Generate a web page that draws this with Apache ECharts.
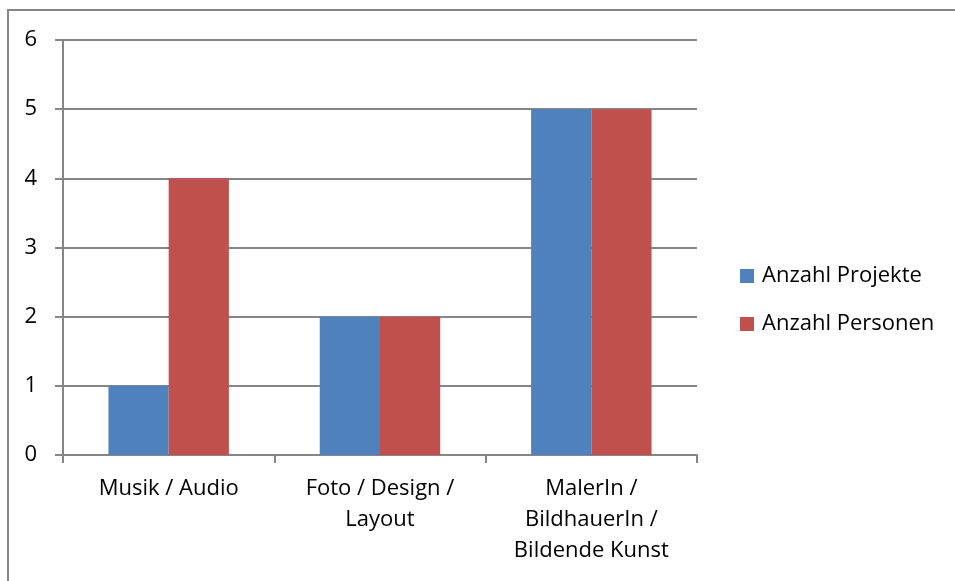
<!DOCTYPE html>
<html>
<head>
<meta charset="utf-8">
<script src="https://cdn.jsdelivr.net/npm/echarts@6/dist/echarts.min.js"></script>
<style>
html, body { margin: 0; padding: 0; background: #fff; }
#chart { width: 955px; height: 581px; }
</style>
</head>
<body>
<div id="chart"></div>
<script>
// Kategorien und Werte
const categories = ['Musik / Audio', 'Foto / Design /\nLayout', 'MalerIn /\nBildhauerIn /\nBildende Kunst'];
const projekte = [1, 2, 5];
const personen = [4, 2, 5];
const seriesNames = ['Anzahl Projekte', 'Anzahl Personen'];
const yTicks = { min: 0, max: 6, interval: 1 };

const FONT = 'Open Sans';
const GRAY = '#868686';

const chart = echarts.init(document.getElementById('chart'));
chart.setOption({
  animation: false,
  textStyle: { fontFamily: FONT },
  graphic: [{
    type: 'rect',
    shape: { x: 8, y: 10, width: 1200, height: 1000 },
    style: { fill: 'none', stroke: GRAY, lineWidth: 2 },
    silent: true
  }],
  legend: {
    orient: 'vertical',
    left: 740,
    top: 260,
    padding: [5, 0, 5, 0],
    itemWidth: 14,
    itemHeight: 14,
    itemGap: 26,
    icon: 'rect',
    textStyle: { fontSize: 22, color: '#000', fontFamily: FONT, padding: [0, 0, 0, 3] },
    data: seriesNames
  },
  grid: { left: 63, right: 258, top: 40, bottom: 126, containLabel: false },
  xAxis: {
    type: 'category',
    data: categories,
    axisLine: { lineStyle: { color: GRAY, width: 2 } },
    axisTick: { show: true, length: 8, lineStyle: { color: GRAY, width: 2 } },
    axisLabel: { color: '#000', fontSize: 22, margin: 18, lineHeight: 31, interval: 0, fontFamily: FONT }
  },
  yAxis: {
    type: 'value',
    min: yTicks.min,
    max: yTicks.max,
    interval: yTicks.interval,
    axisLine: { show: true, lineStyle: { color: GRAY, width: 2 } },
    axisTick: { show: true, length: 8, lineStyle: { color: GRAY, width: 2 } },
    axisLabel: { color: '#000', fontSize: 22, margin: 26, fontFamily: FONT },
    splitLine: { show: true, lineStyle: { color: GRAY, width: 2 } }
  },
  series: [
    {
      name: seriesNames[0],
      type: 'bar',
      data: projekte,
      barGap: '0%',
      barCategoryGap: '43%',
      itemStyle: { color: '#4F81BD' }
    },
    {
      name: seriesNames[1],
      type: 'bar',
      data: personen,
      itemStyle: { color: '#C0504D' }
    }
  ]
});
</script>
</body>
</html>
